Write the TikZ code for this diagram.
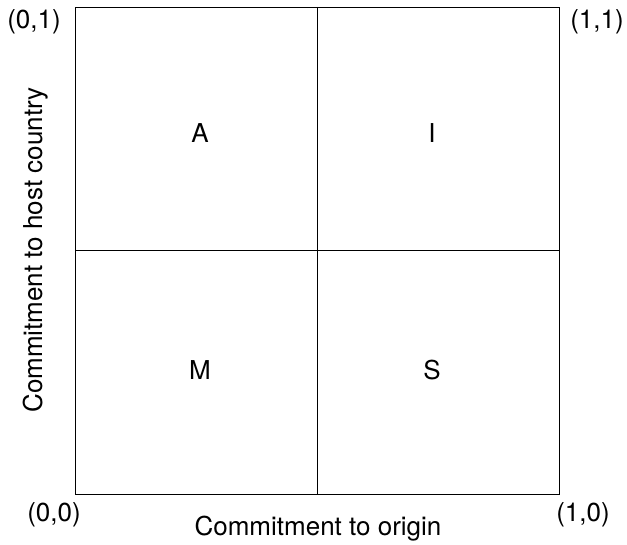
\documentclass[tikz,border=0pt]{standalone}
\usepackage{fontspec}
\setmainfont{TeX Gyre Heros}

\begin{document}
\begin{tikzpicture}[
    x=1pt,y=-1pt,
    frame/.style={draw=black!85,line width=1pt},
    lbl/.style={font=\fontsize{26}{30}\selectfont,inner sep=0pt},
]
    \useasboundingbox (0,0) rectangle (627,545);
    \coordinate (tl) at (75,7);
    \coordinate (tr) at (559,7);
    \coordinate (bl) at (75,494);
    \coordinate (br) at (559,494);
    \coordinate (tm) at (317,7);
    \coordinate (bm) at (317,494);
    \coordinate (lm) at (75,250);
    \coordinate (rm) at (559,250);
    {[frame]
        \draw (tl) rectangle (br);
        \draw (tm) -- (bm);
        \draw (lm) -- (rm);
    }
    \node[lbl] (a) at (200,133) {A};
    \node[lbl] (i) at (432,133) {I};
    \node[lbl] (m) at (200,370) {M};
    \node[lbl] (s) at (432,370) {S};
    \node[lbl] (c01) at (34,22) {(0,1)};
    \node[lbl] (c11) at (597,22) {(1,1)};
    \node[lbl] (c00) at (54,515) {(0,0)};
    \node[lbl] (c10) at (583,515) {(1,0)};
    \node[lbl] (xlab) at (318,529) {Commitment to origin};
    \node[lbl,rotate=90] (ylab) at (36,250) {Commitment to host country};
\end{tikzpicture}
\end{document}
